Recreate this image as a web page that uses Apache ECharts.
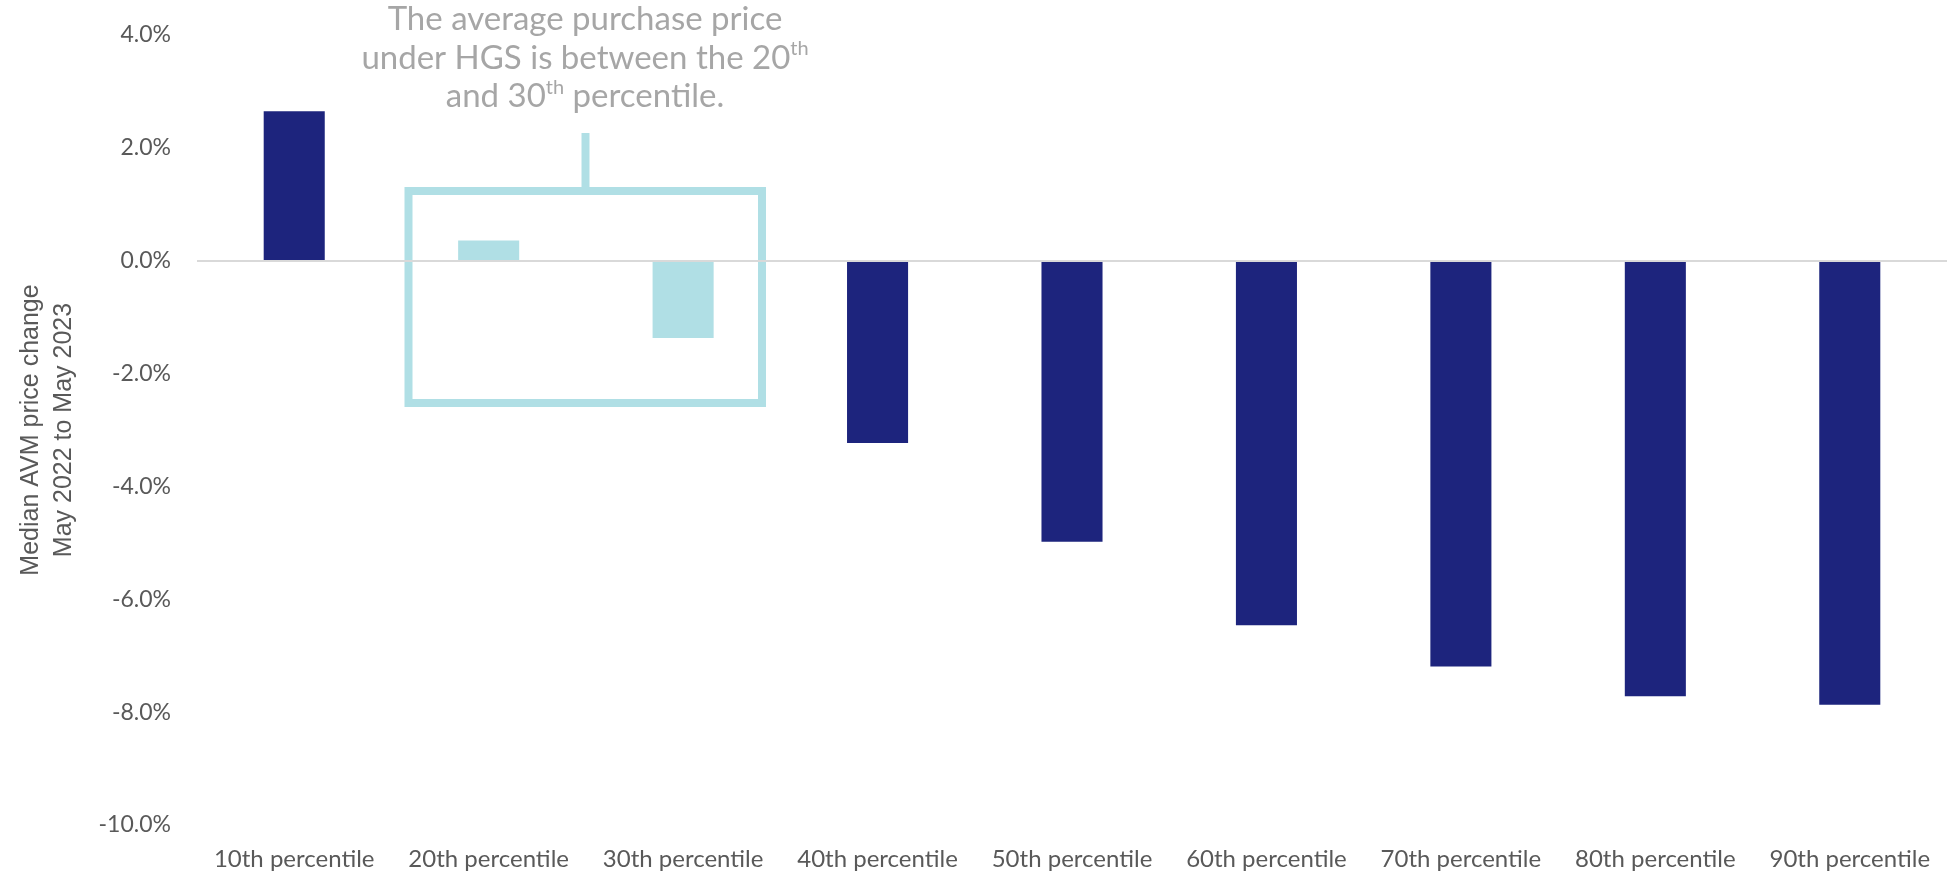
<!DOCTYPE html>
<html>
<head>
<meta charset="utf-8">
<script src="https://cdn.jsdelivr.net/npm/echarts@6/dist/echarts.min.js"></script>
<style>
  html, body { margin: 0; padding: 0; background: #ffffff; }
  #chart { width: 1949px; height: 873px; }
</style>
</head>
<body>
<div id="chart"></div>
<script>
// Percentile bands of property value
const categories = [
  '10th percentile', '20th percentile', '30th percentile',
  '40th percentile', '50th percentile', '60th percentile',
  '70th percentile', '80th percentile', '90th percentile'
];

// Median AVM price change, May 2022 to May 2023 (%)
const priceChange = [2.65, 0.36, -1.37, -3.23, -4.98, -6.46, -7.19, -7.72, -7.87];

// Bands that bracket the average HGS purchase price
const hgsBands = ['20th percentile', '30th percentile'];

// Value axis range and step (%)
const yMin = -10;
const yMax = 4;
const yStep = 2;

const axisTitle = 'Median AVM price change\nMay 2022 to May 2023';

const NAVY = '#1d247d';
const LIGHT_BLUE = '#b0dfe5';
const LABEL_GREY = '#595959';
const NOTE_GREY = '#a6a6a6';

const chart = echarts.init(document.getElementById('chart'));

const barData = priceChange.map((v, i) => ({
  value: v,
  itemStyle: { color: hgsBands.includes(categories[i]) ? LIGHT_BLUE : NAVY }
}));

chart.setOption({
  animation: false,
  backgroundColor: '#ffffff',
  grid: { left: 197, right: 2, top: 35, bottom: 48, containLabel: false },
  xAxis: {
    type: 'category',
    data: categories,
    axisLine: { show: false, onZero: false },
    axisTick: { show: false },
    axisLabel: {
      color: LABEL_GREY,
      fontFamily: 'Lato',
      fontSize: 24,
      margin: 22,
      interval: 0
    },
    splitLine: { show: false }
  },
  yAxis: {
    type: 'value',
    min: yMin,
    max: yMax,
    interval: yStep,
    axisLine: { show: false },
    axisTick: { show: false },
    splitLine: { show: false },
    axisLabel: {
      color: LABEL_GREY,
      fontFamily: 'Lato',
      fontSize: 23,
      margin: 26,
      formatter: v => v.toFixed(1) + '%'
    },
    name: axisTitle,
    nameLocation: 'middle',
    nameRotate: 90,
    nameGap: 116,
    nameTextStyle: {
      color: LABEL_GREY,
      fontFamily: 'Liberation Sans',
      fontSize: 25,
      lineHeight: 33,
      align: 'center'
    }
  },
  series: [{
    type: 'bar',
    data: barData,
    barWidth: '31.4%',
    markLine: {
      silent: true,
      symbol: 'none',
      label: { show: false },
      lineStyle: { color: '#d9d9d9', width: 2, type: 'solid' },
      data: [{ yAxis: 0 }]
    }
  }],
  graphic: [
    {
      type: 'text',
      x: 585,
      y: 58,
      style: {
        text: 'The average purchase price\nunder HGS is between the 20{sup|th}\nand 30{sup|th} percentile.',
        fill: NOTE_GREY,
        fontFamily: 'Lato',
        fontSize: 33,
        lineHeight: 38.5,
        align: 'center',
        verticalAlign: 'middle',
        rich: {
          sup: {
            fontFamily: 'Lato',
            fontSize: 20,
            fill: NOTE_GREY,
            verticalAlign: 'top',
            lineHeight: 38.5,
            padding: [0, 0, 12, 0]
          }
        }
      }
    },
    {
      type: 'line',
      shape: { x1: 585.5, y1: 133, x2: 585.5, y2: 191 },
      style: { stroke: LIGHT_BLUE, lineWidth: 8 }
    },
    {
      type: 'rect',
      shape: { x: 408.5, y: 191, width: 353.5, height: 212 },
      style: { fill: 'none', stroke: LIGHT_BLUE, lineWidth: 8 }
    }
  ]
});
</script>
</body>
</html>
